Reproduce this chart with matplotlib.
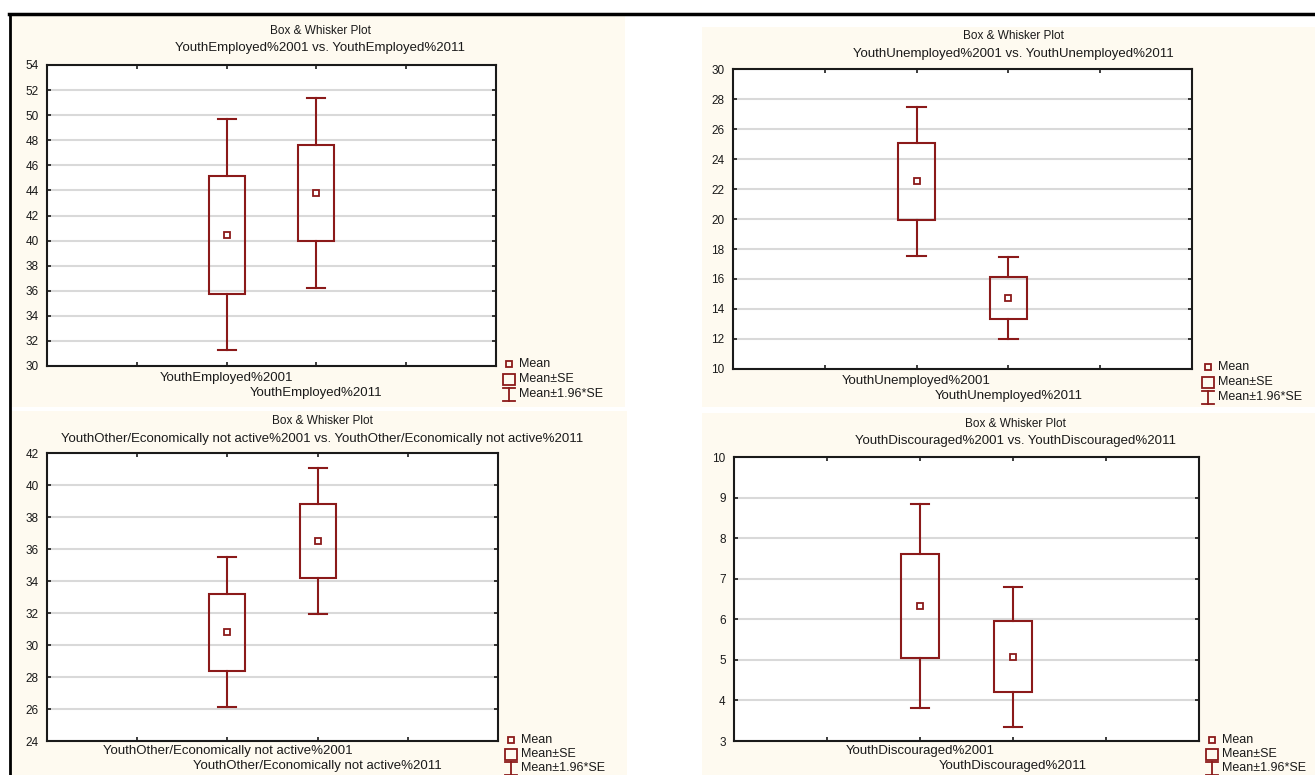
import numpy as np
import matplotlib
matplotlib.use("Agg")
import matplotlib.pyplot as plt
from matplotlib.patches import Rectangle
from matplotlib.lines import Line2D

plt.rcParams['font.family'] = ['Liberation Sans', 'DejaVu Sans']

W, H = 1315, 775
RED = '#8b1a1a'
CREAM = '#fefaf0'
INK = '#1a1a1a'

# group means and standard errors, 2001 vs 2011
titles = ['YouthEmployed', 'YouthUnemployed',
          'YouthOther/Economically not active', 'YouthDiscouraged']
years = ['2001', '2011']
employed_mean = [40.45, 43.8]
employed_se = [4.7, 3.85]
unemployed_mean = [22.5, 14.75]
unemployed_se = [2.55, 1.4]
other_mean = [30.8, 36.5]
other_se = [2.4, 2.33]
discouraged_mean = [6.33, 5.08]
discouraged_se = [1.28, 0.88]

ylims = [(30, 54), (10, 30), (24, 42), (3, 10)]
ysteps = [2, 2, 2, 1]

# pixel layout of each panel: axes box, cream panel, title centre, legend spot
axes_px = [(47, 496, 65, 366), (733, 1192, 69, 369),
           (47, 498, 453, 741), (734, 1199, 457, 741)]
panel_px = [(10, 625, 16, 407), (702, 1315, 27, 407),
            (10, 627, 411, 775), (702, 1315, 413, 775)]
title_px = [(320, 31, 48), (1013, 36, 54), (322, 421, 439), (1015, 424, 441)]
xlab_px = [(378, 393), (381, 396), (751, 766), (751, 766)]
legend_px = [(509, 364, 15), (1208, 367, 15), (511, 740, 14), (1212, 740, 14)]

fig = plt.figure(figsize=(W / 100, H / 100), dpi=100)
fig.patch.set_facecolor('white')


def fx(x):
    return x / W


def fy(y):
    return 1 - y / H


# page frame
fig.add_artist(Line2D([fx(9), fx(W)], [fy(14), fy(14)], color='black', lw=2.5))
fig.add_artist(Line2D([fx(10), fx(10)], [fy(14), fy(H)], color='black', lw=2))

for (x0, x1, y0, y1) in panel_px:
    fig.add_artist(Rectangle((fx(x0), fy(y1)), fx(x1 - x0), (y1 - y0) / H,
                             facecolor=CREAM, edgecolor='none', zorder=0))

data = [(employed_mean, employed_se), (unemployed_mean, unemployed_se),
        (other_mean, other_se), (discouraged_mean, discouraged_se)]

for i, (means, ses) in enumerate(data):
    l, r, t, b = axes_px[i]
    ax = fig.add_axes([fx(l), fy(b), fx(r - l), (b - t) / H])
    ax.set_facecolor('white')
    means = np.array(means)
    ses = np.array(ses)
    xs = np.array([2, 3])
    for x, m, s in zip(xs, means, ses):
        lo, hi = m - 1.96 * s, m + 1.96 * s
        ax.plot([x, x], [m + s, hi], color=RED, lw=1.5, zorder=3)
        ax.plot([x, x], [lo, m - s], color=RED, lw=1.5, zorder=3)
        ax.plot([x - 0.1, x + 0.1], [hi, hi], color=RED, lw=1.5, zorder=3)
        ax.plot([x - 0.1, x + 0.1], [lo, lo], color=RED, lw=1.5, zorder=3)
        ax.add_patch(Rectangle((x - 0.2, m - s), 0.4, 2 * s, fill=False,
                               edgecolor=RED, lw=1.5, zorder=3))
        ax.plot([x], [m], marker='s', ms=4.5, mfc='white', mec=RED, mew=1.3,
                zorder=4)
    ax.set_xlim(0, 5)
    ax.set_ylim(*ylims[i])
    ax.set_xticks([1, 2, 3, 4])
    ax.set_xticklabels([])
    ax.set_yticks(np.arange(ylims[i][0], ylims[i][1] + 0.01, ysteps[i]))
    ax.yaxis.grid(True, color='#d9d9d9', lw=1.5)
    ax.set_axisbelow(True)
    ax.tick_params(direction='in', length=3, width=1.2, top=True, right=True,
                   labelsize=8.5, pad=6, colors=INK)
    for sp in ax.spines.values():
        sp.set_linewidth(1.5)
        sp.set_color(INK)

    name = titles[i]
    cx, ty1, ty2 = title_px[i]
    fig.text(fx(cx), fy(ty1), 'Box & Whisker Plot', ha='center', va='center',
             fontsize=8.5, color=INK)
    fig.text(fx(cx), fy(ty2), f'{name}%{years[0]} vs. {name}%{years[1]}',
             ha='center', va='center', fontsize=9.5, color=INK)

    # staggered category labels below the axis
    ly1, ly2 = xlab_px[i]
    for x, ly, yr in zip(xs, (ly1, ly2), years):
        px = l + (r - l) * x / 5
        fig.text(fx(px), fy(ly), f'{name}%{yr}', ha='center', va='center',
                 fontsize=9.5, color=INK)

    # legend key
    gx, gy, dy = legend_px[i]
    fig.add_artist(Rectangle((fx(gx - 3), fy(gy + 3)), fx(6), 6 / H, fill=False,
                             edgecolor=RED, lw=1.3))
    fig.add_artist(Rectangle((fx(gx - 6), fy(gy + dy + 6)), fx(12), 11 / H,
                             fill=False, edgecolor=RED, lw=1.3))
    wy = gy + 2 * dy
    fig.add_artist(Line2D([fx(gx), fx(gx)], [fy(wy - 6), fy(wy + 7)], color=RED, lw=1.3))
    fig.add_artist(Line2D([fx(gx - 6), fx(gx + 6)], [fy(wy - 6), fy(wy - 6)], color=RED, lw=1.3))
    fig.add_artist(Line2D([fx(gx - 6), fx(gx + 6)], [fy(wy + 7), fy(wy + 7)], color=RED, lw=1.3))
    for k, lab in enumerate(['Mean', 'Mean±SE', 'Mean±1.96*SE']):
        fig.text(fx(gx + 10), fy(gy + k * dy), lab, ha='left', va='center',
                 fontsize=9, color=INK)

fig.savefig('out.png', dpi=100)
